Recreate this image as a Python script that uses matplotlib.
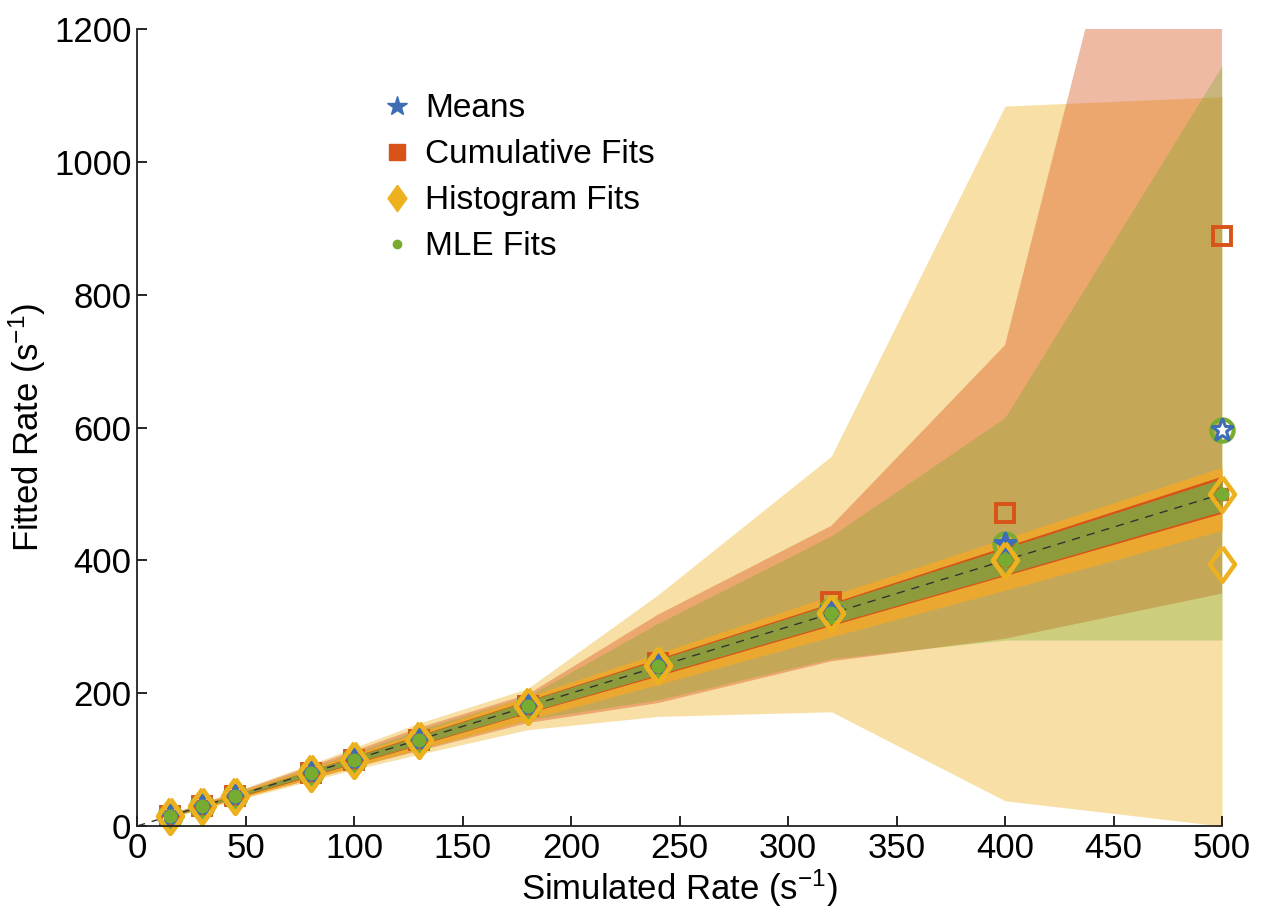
import matplotlib
matplotlib.use("Agg")
import matplotlib.pyplot as plt
from matplotlib.lines import Line2D
import numpy as np

plt.rcParams['font.family'] = ['Liberation Sans', 'DejaVu Sans']
plt.rcParams['mathtext.fontset'] = 'custom'
plt.rcParams['mathtext.rm'] = 'Liberation Sans'
plt.rcParams['mathtext.it'] = 'Liberation Sans:italic'

# simulated rates (s^-1)
sim_rate = [15, 30, 45, 80, 100, 130, 180, 240, 320, 400, 500]

# fitted values (large open markers)
means_fit = [15, 30, 45, 80, 100, 130, 180, 243, 325, 425, 597]
cum_fit = [15, 30, 45, 80, 100, 130, 181, 245, 338, 471, 888]
hist_fit = [15, 30, 45, 80, 100, 130, 180, 242, 320, 400, 395]
mle_fit = [15, 30, 45, 80, 100, 130, 180, 243, 325, 425, 597]
# inner markers
cum_med = [15, 30, 45, 80, 100, 130, 180, 241, 322, 401, 500]
hist_med = [15, 30, 45, 80, 100, 130, 180, 241, 321, 400, 500]
mle_med = [15, 30, 45, 80, 100, 130, 180, 241, 321, 400, 500]

# wide spread bands
hist_hi = [18, 35, 52, 93, 118, 155, 207, 348, 557, 1084, 1098]
hist_lo = [12, 25, 38, 68, 85, 108, 145, 165, 172, 38, 0]
cum_hi = [17, 34, 50, 90, 113, 148, 198, 318, 452, 724, 2010]
cum_lo = [13, 26, 40, 70, 88, 113, 155, 185, 248, 282, 350]
mle_hi = [17, 33, 49, 88, 110, 145, 195, 305, 437, 615, 1145]
mle_lo = [13, 27, 41, 72, 90, 116, 160, 190, 252, 280, 280]

# narrow bands
hist_band_hi = [17, 33, 49, 87, 108, 141, 195, 260, 347, 433, 540]
hist_band_lo = [13, 27, 40, 71, 89, 116, 160, 213, 285, 355, 445]
cum_band_hi = [16, 32, 47, 84, 105, 137, 189, 252, 336, 421, 527]
cum_band_lo = [14, 28, 42, 75, 94, 122, 170, 226, 302, 377, 471]
mle_band_hi = [16, 31, 47, 84, 104, 136, 188, 250, 334, 418, 523]
mle_band_lo = [14, 28, 43, 76, 95, 123, 171, 228, 304, 379, 474]

blue = '#3E6DB5'
red = '#D95319'
yellow = '#EDB120'
green = '#77AC30'

fig = plt.figure(figsize=(12.62, 9.18), dpi=100)
ax = fig.add_axes([0.1086, 0.1002, 0.8597, 0.8682])

ax.fill_between(sim_rate, hist_lo, hist_hi, color=yellow, alpha=0.4, lw=0)
ax.fill_between(sim_rate, cum_lo, cum_hi, color=red, alpha=0.4, lw=0)
ax.fill_between(sim_rate, mle_lo, mle_hi, color=green, alpha=0.33, lw=0)

ax.fill_between(sim_rate, hist_band_lo, hist_band_hi, color='#EBA830', lw=0)
ax.fill_between(sim_rate, cum_band_lo, cum_band_hi, color=red, lw=0)
ax.fill_between(sim_rate, mle_band_lo, mle_band_hi, color='#8E9B3C', lw=0)

ax.plot([0, 500], [0, 500], ls=(0, (6, 5)), color='#333333', lw=1)

diamond = [(0, 1), (0.72, 0), (0, -1), (-0.72, 0), (0, 1)]

kw = dict(ls='none', clip_on=False)
ax.plot(sim_rate, cum_med, marker='s', ms=9, mfc=red, mec=red, **kw)
ax.plot(sim_rate, cum_fit, marker='s', ms=13, mfc='none', mec=red, mew=2.8, **kw)
ax.plot(sim_rate, mle_fit, marker='o', ms=16, mfc='none', mec=green, mew=3, **kw)
ax.plot(sim_rate, means_fit, marker='*', ms=17, mfc='white', mec=blue, mew=2.2, **kw)
ax.plot(sim_rate[:-1], means_fit[:-1], marker='*', ms=15, mfc=blue, mec=blue, **kw)
ax.plot(sim_rate, hist_fit, marker=diamond, ms=25, mfc='none', mec=yellow, mew=3.2, **kw)
ax.plot(sim_rate, hist_med, marker=diamond, ms=25, mfc='none', mec=yellow, mew=3.2, **kw)
ax.plot(sim_rate, mle_med, marker='o', ms=9, mfc=green, mec=green, **kw)

handles = [
    Line2D([], [], ls='none', marker='*', ms=15, color=blue),
    Line2D([], [], ls='none', marker='s', ms=12, color=red),
    Line2D([], [], ls='none', marker=diamond, ms=19, color=yellow),
    Line2D([], [], ls='none', marker='o', ms=6, color=green),
]
ax.legend(handles, ['Means', 'Cumulative Fits', 'Histogram Fits', 'MLE Fits'],
          loc='upper left', bbox_to_anchor=(0.212, 0.94), frameon=False,
          fontsize=24, handlelength=0.8, handletextpad=0.45, labelspacing=0.45,
          borderpad=0)

ax.set_xlim(0, 500)
ax.set_ylim(0, 1200)
ax.set_xticks(np.arange(0, 501, 50))
ax.set_yticks(np.arange(0, 1201, 200))
ax.tick_params(direction='in', length=7, width=1.2, labelsize=25, pad=4)
for s in ['top', 'right']:
    ax.spines[s].set_visible(False)
for s in ['left', 'bottom']:
    ax.spines[s].set_linewidth(1.3)
    ax.spines[s].set_color('#222222')

ax.set_xlabel('Simulated Rate (s$^{-1}$)', fontsize=25, labelpad=2)
ax.set_ylabel('Fitted Rate (s$^{-1}$)', fontsize=25, labelpad=4)

fig.savefig('out.png', dpi=100)
